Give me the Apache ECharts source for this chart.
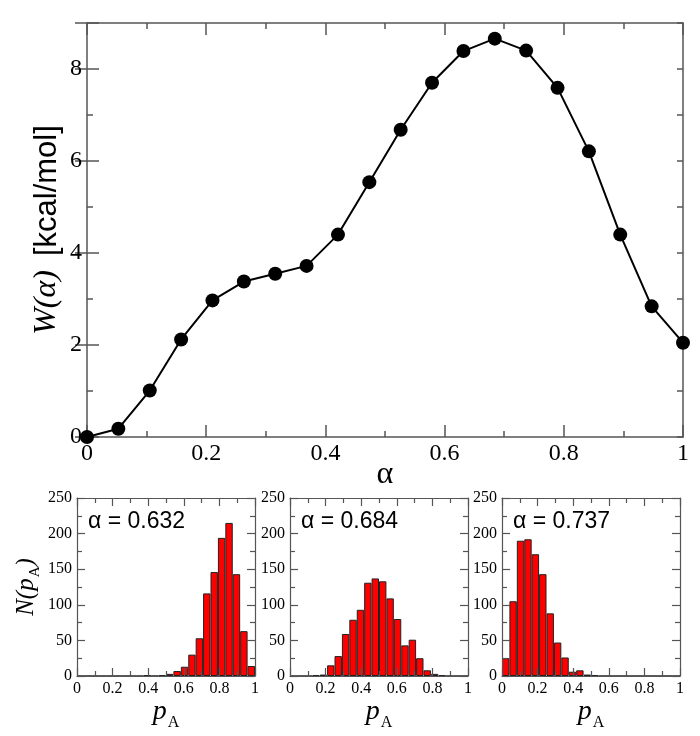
<!DOCTYPE html>
<html><head><meta charset="utf-8">
<script src="https://cdn.jsdelivr.net/npm/echarts@6/dist/echarts.min.js"></script>
<style>html,body{margin:0;padding:0;background:#fff}#c{width:700px;height:736px}</style>
</head><body><div id="c"></div>
<script>
// ---- data ----
const alphaValues = [0, 0.0526, 0.1053, 0.1579, 0.2105, 0.2632, 0.3158, 0.3684, 0.4211, 0.4737,
                     0.5263, 0.5789, 0.6316, 0.6842, 0.7368, 0.7895, 0.8421, 0.8947, 0.9474, 1];
const wValues = [0, 0.18, 1.01, 2.12, 2.97, 3.38, 3.55, 3.72, 4.40, 5.54,
                 6.68, 7.70, 8.39, 8.66, 8.40, 7.59, 6.21, 4.40, 2.84, 2.05];
const binCenters = ['0.021','0.063','0.104','0.146','0.188','0.229','0.271','0.313','0.354','0.396',
                    '0.438','0.479','0.521','0.563','0.604','0.646','0.688','0.729','0.771','0.813',
                    '0.854','0.896','0.938','0.979'];
const hist632 = [0,0,0,0,0,0,0,0,0,1,0,1,3,7,13,30,53,116,146,194,215,143,63,14];
const hist684 = [0,0,0,1,2,15,28,59,79,93,131,137,133,109,80,43,51,25,8,3,1,0,0,0];
const hist737 = [25,105,190,192,171,143,88,47,26,6,8,2,1,0,0,0,0,0,0,0,0,0,0,0];
const panelLabels = ['α = 0.632', 'α = 0.684', 'α = 0.737'];
const panelHists = [hist632, hist684, hist737];

// ---- style ----
const SERIF = '"Liberation Serif", "Times New Roman", serif';
const SANS = '"Liberation Sans", Arial, sans-serif';
const FRAME = '#555';

const grids = [
  {left: 87, top: 23, width: 596, height: 414},
  {left: 77, top: 498, width: 178, height: 178},
  {left: 290, top: 498, width: 178, height: 178},
  {left: 502, top: 498, width: 178, height: 178}
];

function lineSt(w) { return {color: FRAME, width: w}; }

const xAxes = [];
const yAxes = [];
const series = [];

// main chart axes
xAxes.push({
  gridIndex: 0, type: 'value', min: 0, max: 1, interval: 0.2, position: 'bottom',
  axisLine: {show: true, onZero: false, lineStyle: lineSt(1.5)},
  axisTick: {show: true, inside: true, length: 12, lineStyle: lineSt(1.5)},
  minorTick: {show: true, splitNumber: 2, length: 6, lineStyle: lineSt(1.5)},
  splitLine: {show: false},
  axisLabel: {fontFamily: SERIF, fontSize: 24, color: '#000', margin: 5},
  name: 'α', nameLocation: 'middle', nameGap: 22, nameMoveOverlap: false,
  nameTextStyle: {fontFamily: SERIF, fontSize: 32, color: '#000'}
});
xAxes.push({
  gridIndex: 0, type: 'value', min: 0, max: 1, interval: 0.2, position: 'top',
  axisLine: {show: true, onZero: false, lineStyle: lineSt(1.5)},
  axisTick: {show: true, inside: true, length: 12, lineStyle: lineSt(1.5)},
  minorTick: {show: true, splitNumber: 2, length: 6, lineStyle: lineSt(1.5)},
  splitLine: {show: false}, axisLabel: {show: false}
});
// left minor (with labels & title)
yAxes.push({
  gridIndex: 0, type: 'value', min: 0, max: 9, interval: 1, position: 'left',
  axisLine: {show: true, onZero: false, lineStyle: lineSt(1.5)},
  axisTick: {show: true, inside: true, length: 6, lineStyle: lineSt(1.5)},
  splitLine: {show: false},
  axisLabel: {fontFamily: SERIF, fontSize: 24, color: '#000', margin: 5,
              formatter: v => (v % 2 === 0 ? String(v) : '')},
  name: '{w|W(α)}{k|[kcal/mol]}', nameLocation: 'middle', nameRotate: 90, nameGap: 24,
  nameMoveOverlap: false,
  nameTextStyle: {rich: {
    w: {fontFamily: SERIF, fontStyle: 'italic', fontSize: 32, color: '#000'},
    k: {fontFamily: SANS, fontSize: 31, color: '#000', padding: [0, 0, 0, 14]}
  }}
});
// left major
yAxes.push({
  gridIndex: 0, type: 'value', min: 0, max: 9, interval: 2, position: 'left',
  axisLine: {show: false},
  axisTick: {show: true, inside: true, length: 12, lineStyle: lineSt(1.5)},
  splitLine: {show: false}, axisLabel: {show: false}
});
// right minor
yAxes.push({
  gridIndex: 0, type: 'value', min: 0, max: 9, interval: 1, position: 'right',
  axisLine: {show: true, onZero: false, lineStyle: lineSt(1.5)},
  axisTick: {show: true, inside: true, length: 6, lineStyle: lineSt(1.5)},
  splitLine: {show: false}, axisLabel: {show: false}
});
// right major
yAxes.push({
  gridIndex: 0, type: 'value', min: 0, max: 9, interval: 2, position: 'right',
  axisLine: {show: false},
  axisTick: {show: true, inside: true, length: 12, lineStyle: lineSt(1.5)},
  splitLine: {show: false}, axisLabel: {show: false}
});

series.push({
  type: 'line', xAxisIndex: 0, yAxisIndex: 0,
  data: alphaValues.map((a, i) => [a, wValues[i]]),
  symbol: 'circle', symbolSize: 14, clip: false, z: 5,
  lineStyle: {color: '#000', width: 2},
  itemStyle: {color: '#000'}
});

// panels
const graphics = [];
for (let p = 0; p < 3; p++) {
  const gi = p + 1;
  xAxes.push({
    gridIndex: gi, type: 'value', min: 0, max: 1, interval: 0.2, position: 'bottom', z: 10,
    axisLine: {show: true, onZero: false, lineStyle: lineSt(1.2)},
    axisTick: {show: true, inside: true, length: 8, lineStyle: lineSt(1.2)},
    minorTick: {show: true, splitNumber: 2, length: 5, lineStyle: lineSt(1.2)},
    splitLine: {show: false},
    axisLabel: {fontFamily: SERIF, fontSize: 16, color: '#000', margin: 5},
    name: '{p|p}{s|A}', nameLocation: 'middle', nameGap: 14,
    nameTextStyle: {rich: {
      p: {fontFamily: SERIF, fontStyle: 'italic', fontSize: 28, lineHeight: 28, color: '#000', verticalAlign: 'top'},
      s: {fontFamily: SERIF, fontSize: 16, lineHeight: 16, color: '#000', verticalAlign: 'top', padding: [17, 0, 0, 1]}
    }}
  });
  xAxes.push({
    gridIndex: gi, type: 'value', min: 0, max: 1, interval: 0.2, position: 'top', z: 10,
    axisLine: {show: true, onZero: false, lineStyle: lineSt(1.2)},
    axisTick: {show: true, inside: true, length: 8, lineStyle: lineSt(1.2)},
    minorTick: {show: true, splitNumber: 2, length: 5, lineStyle: lineSt(1.2)},
    splitLine: {show: false}, axisLabel: {show: false}
  });
  const xc = xAxes.length;
  xAxes.push({
    gridIndex: gi, type: 'category', data: binCenters, boundaryGap: true, show: false
  });
  const yl = yAxes.length;
  const yLeft = {
    gridIndex: gi, type: 'value', min: 0, max: 250, interval: 50, position: 'left', z: 10,
    axisLine: {show: true, onZero: false, lineStyle: lineSt(1.2)},
    axisTick: {show: true, inside: true, length: 8, lineStyle: lineSt(1.2)},
    minorTick: {show: true, splitNumber: 2, length: 5, lineStyle: lineSt(1.2)},
    splitLine: {show: false},
    axisLabel: {fontFamily: SERIF, fontSize: 16, color: '#000', margin: 5}
  };
  if (p === 0) {
    Object.assign(yLeft, {
      name: '{n|N(}{p|p}{s|A}{n|)}', nameLocation: 'middle', nameRotate: 90, nameGap: 38,
      nameTextStyle: {rich: {
        n: {fontFamily: SERIF, fontStyle: 'italic', fontSize: 25, lineHeight: 25, color: '#000', verticalAlign: 'top'},
        p: {fontFamily: SERIF, fontStyle: 'italic', fontSize: 25, lineHeight: 25, color: '#000', verticalAlign: 'top'},
        s: {fontFamily: SERIF, fontSize: 15, lineHeight: 15, color: '#000', verticalAlign: 'top', padding: [14, 0, 0, 1]}
      }}
    });
  }
  yAxes.push(yLeft);
  yAxes.push({
    gridIndex: gi, type: 'value', min: 0, max: 250, interval: 50, position: 'right', z: 10,
    axisLine: {show: true, onZero: false, lineStyle: lineSt(1.2)},
    axisTick: {show: true, inside: true, length: 8, lineStyle: lineSt(1.2)},
    minorTick: {show: true, splitNumber: 2, length: 5, lineStyle: lineSt(1.2)},
    splitLine: {show: false}, axisLabel: {show: false}
  });
  series.push({
    type: 'bar', xAxisIndex: xc, yAxisIndex: yl, data: panelHists[p],
    barCategoryGap: '0%', barWidth: '100%',
    itemStyle: {color: '#ff0000', borderColor: '#222', borderWidth: 1}
  });
  graphics.push({
    type: 'text', left: grids[gi].left + 11, top: 510,
    style: {text: panelLabels[p], fontFamily: SANS, fontSize: 23, fill: '#000'}
  });
}

const chart = echarts.init(document.getElementById('c'), null, {renderer: 'canvas'});
chart.setOption({
  animation: false,
  backgroundColor: '#fff',
  grid: grids,
  xAxis: xAxes,
  yAxis: yAxes,
  series: series,
  graphic: graphics
});
</script>
</body></html>
